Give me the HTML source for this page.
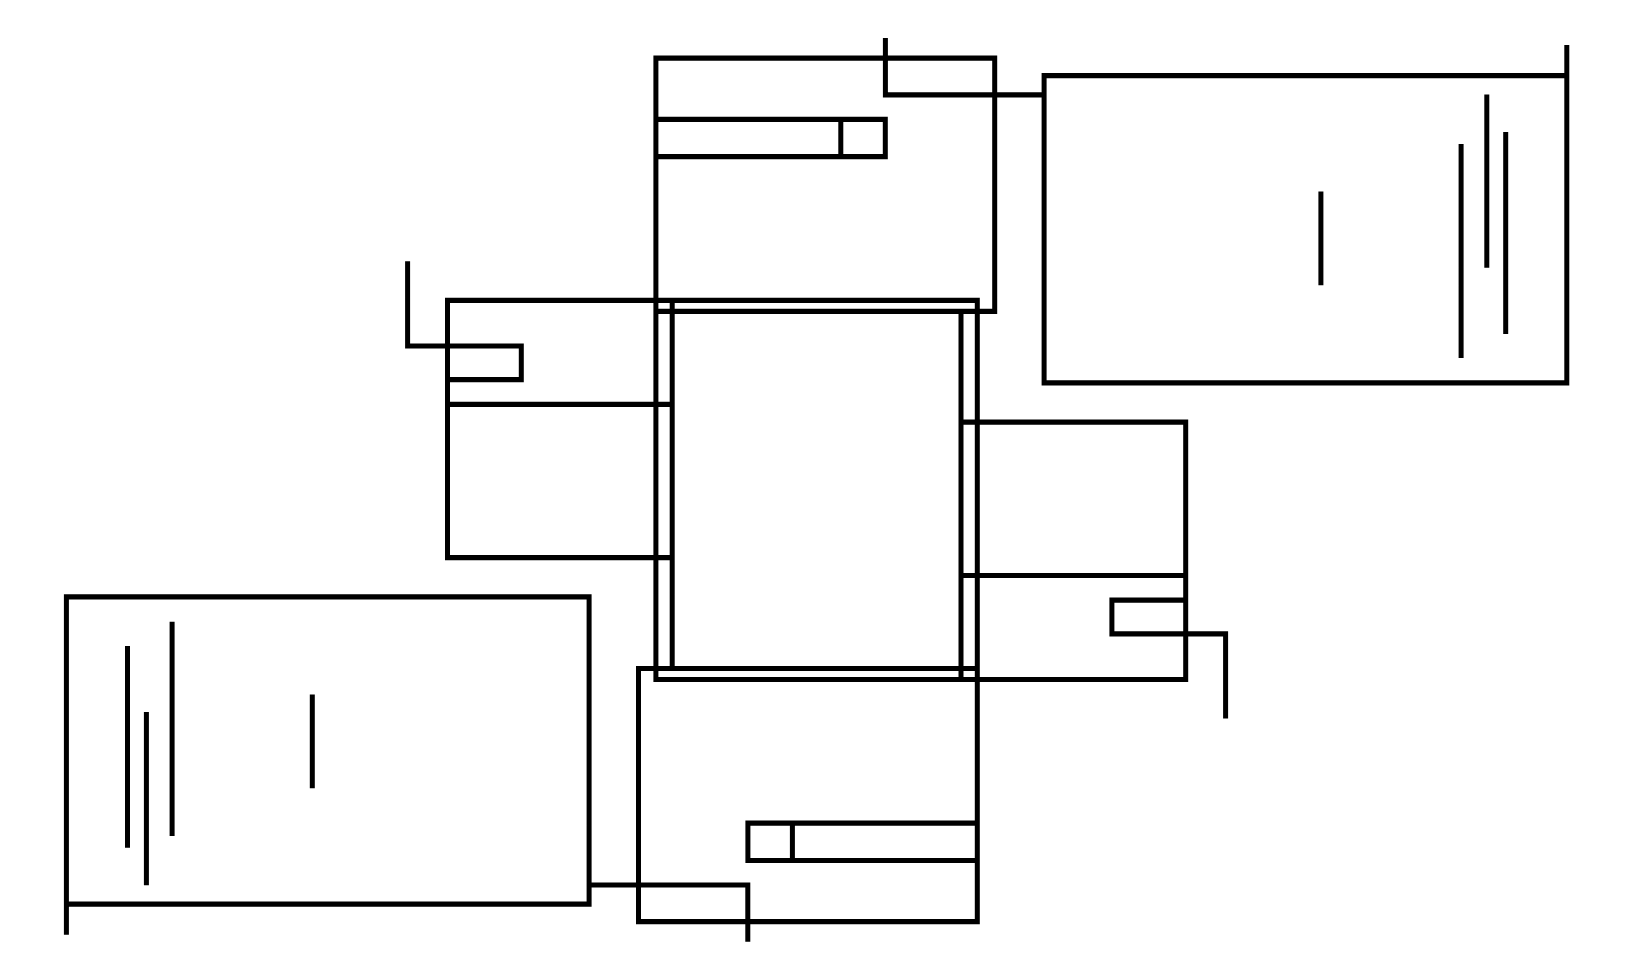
<!DOCTYPE html>
<html><head><meta charset="utf-8"><style>
html,body{margin:0;padding:0;background:#fff;width:1633px;height:980px;overflow:hidden;font-family:"Liberation Sans",sans-serif;}
svg{display:block;}
</style></head><body>
<svg width="1633" height="980" viewBox="0 0 1633 980">
<rect x="0" y="0" width="1633" height="980" fill="#fff"/>
<g fill="#000">
<path d="M653.40 55.50H658.40V682.10H653.40ZM653.40 55.50H997.20V60.70H653.40ZM992.20 55.50H997.20V313.90H992.20ZM653.40 308.70H997.20V313.90H653.40ZM653.40 116.70H887.80V121.90H653.40ZM653.40 154.00H887.80V159.20H653.40ZM882.80 116.70H887.80V159.20H882.80ZM838.30 116.70H843.30V159.20H838.30ZM882.90 38.00H887.90V97.40H882.90ZM882.90 92.20H1046.60V97.40H882.90ZM1041.60 73.10H1569.30V78.30H1041.60ZM1041.60 73.10H1046.60V385.50H1041.60ZM1041.60 380.30H1569.30V385.50H1041.60ZM1564.30 45.10H1569.30V385.50H1564.30ZM1318.40 191.50H1323.40V285.20H1318.40ZM1458.60 143.90H1463.60V358.10H1458.60ZM1484.30 94.60H1489.30V267.80H1484.30ZM1503.20 132.10H1508.20V333.90H1503.20ZM445.00 297.70H979.80V302.90H445.00ZM445.00 297.70H450.00V560.30H445.00ZM445.00 555.10H674.70V560.30H445.00ZM669.70 297.70H674.70V671.10H669.70ZM445.00 401.70H674.70V406.90H445.00ZM445.00 377.00H523.80V382.20H445.00ZM518.80 343.40H523.80V382.20H518.80ZM405.10 343.40H523.80V348.60H405.10ZM405.10 261.20H410.10V348.60H405.10ZM974.80 297.70H979.80V924.30H974.80ZM636.00 919.10H979.80V924.30H636.00ZM636.00 665.90H641.00V924.30H636.00ZM636.00 665.90H979.80V671.10H636.00ZM745.40 857.90H979.80V863.10H745.40ZM745.40 820.60H979.80V825.80H745.40ZM745.40 820.60H750.40V863.10H745.40ZM789.90 820.60H794.90V863.10H789.90ZM745.30 882.40H750.30V941.80H745.30ZM586.60 882.40H750.30V887.60H586.60ZM63.90 901.50H591.60V906.70H63.90ZM586.60 594.30H591.60V906.70H586.60ZM63.90 594.30H591.60V599.50H63.90ZM63.90 594.30H68.90V934.70H63.90ZM309.80 694.60H314.80V788.30H309.80ZM169.60 621.70H174.60V835.90H169.60ZM143.90 712.00H148.90V885.20H143.90ZM125.00 645.90H130.00V847.70H125.00ZM653.40 676.90H1188.20V682.10H653.40ZM1183.20 419.50H1188.20V682.10H1183.20ZM958.50 419.50H1188.20V424.70H958.50ZM958.50 308.70H963.50V682.10H958.50ZM958.50 572.90H1188.20V578.10H958.50ZM1109.40 597.60H1188.20V602.80H1109.40ZM1109.40 597.60H1114.40V636.40H1109.40ZM1109.40 631.20H1228.10V636.40H1109.40ZM1223.10 631.20H1228.10V718.60H1223.10Z"/>
</g></svg></body></html>
